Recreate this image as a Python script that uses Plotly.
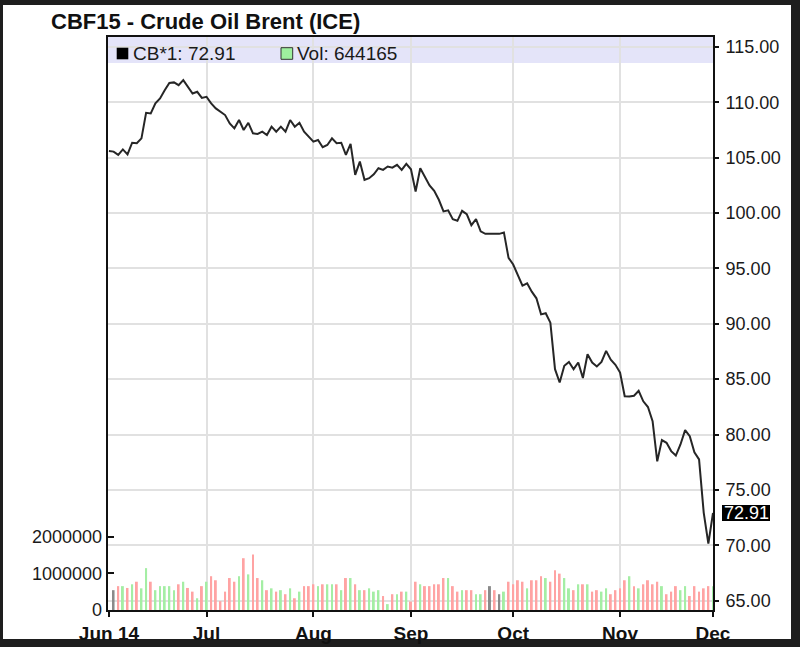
import plotly.graph_objects as go
import pandas as pd

# ---------------- data ----------------
dates = [d.strftime("%Y-%m-%d") for d in pd.bdate_range("2014-06-02", "2014-12-01")]

prices = [
    105.60, 105.55, 105.25, 105.75, 105.30, 106.35, 106.30, 106.75, 109.05, 109.00,
    109.90, 110.35, 111.10, 111.75, 111.80, 111.55, 112.00, 111.40, 110.80, 110.95,
    110.40, 110.50, 109.90, 109.45, 109.15, 108.85, 108.10, 107.65, 108.40, 107.50,
    108.15, 107.20, 107.15, 107.35, 107.05, 107.80, 107.35, 107.80, 107.35, 108.40,
    107.80, 108.15, 107.35, 106.90, 106.45, 106.60, 105.95, 106.15, 106.75, 106.30,
    106.35, 105.25, 106.25, 103.45, 104.65, 103.00, 103.15, 103.50, 104.05, 103.90,
    104.20, 104.10, 104.35, 103.90, 104.45, 103.95, 101.95, 104.05, 103.20, 102.50,
    102.00, 101.20, 100.15, 100.25, 99.45, 99.30, 100.20, 99.90, 98.90, 99.45,
    98.35, 98.12, 98.12, 98.12, 98.12, 98.25, 95.95, 95.35, 94.45, 93.45,
    93.65, 92.90, 92.30, 90.85, 90.95, 90.10, 85.90, 84.70, 86.20, 86.55,
    85.90, 86.50, 85.10, 87.25, 86.50, 86.15, 86.55, 87.55, 86.75, 86.30,
    85.60, 83.45, 83.44, 83.50, 83.95, 83.00, 82.48, 81.20, 77.57, 79.50,
    79.25, 78.50, 78.10, 79.10, 80.40, 79.85, 78.40, 77.75, 72.95, 70.15,
    72.91,
]

volume = [
    None, 540000, 650000, 650000, 600000, 700000, 770000, 590000, 1140000, 770000,
    540000, 650000, 650000, 650000, 540000, 700000, 770000, 600000, 500000, 320000,
    650000, 770000, 920000, 810000, 240000, 500000, 870000, 770000, 920000, 1410000,
    970000, 1510000, 870000, 810000, 540000, 590000, 500000, 540000, 430000, 590000,
    320000, 500000, 650000, 650000, 700000, 650000, 700000, 700000, 700000, 700000,
    540000, 870000, 870000, 700000, 540000, 540000, 590000, 500000, 540000, 380000,
    160000, 430000, 430000, 500000, 500000, 230000, 770000, 700000, 650000, 650000,
    700000, 700000, 870000, 870000, 650000, 500000, 540000, 540000, 540000, 430000,
    430000, 540000, 650000, 540000, 430000, 500000, 770000, 700000, 810000, 770000,
    590000, 810000, 810000, 920000, 870000, 770000, 1080000, 990000, 870000, 590000,
    540000, 700000, 700000, 700000, 500000, 540000, 500000, 590000, 430000, 540000,
    590000, 810000, 920000, 650000, 590000, 700000, 810000, 700000, 770000, 650000,
    430000, 500000, 650000, 540000, 650000, 380000, 650000, 500000, 590000, 650000,
    644165,
]

# u = up day, d = down day, n = unchanged (as coloured in the picture)
directions = (
    "nndududuud" "uuuuududdu" "duddddddud" "uddudududu" "duddduduud"
    "udududuuud" "udududdudd" "dddudduddu" "udndnudddd" "uddduddduu"
    "dududduudd" "ddududdddu" "ddduuddddd" "u"
)

tick_dates = ["2014-06-02", "2014-07-01", "2014-08-01", "2014-09-01",
              "2014-10-01", "2014-11-03", "2014-12-01"]
tick_labels = ["Jun 14", "Jul", "Aug", "Sep", "Oct", "Nov", "Dec"]

price_ticks = [65, 70, 75, 80, 85, 90, 95, 100, 105, 110, 115]
vol_ticks = [0, 1000000, 2000000]
vol_tick_labels = ["0", "1000000", "2000000"]

title_text = "CBF15 - Crude Oil Brent (ICE)"
legend_price = "CB*1: 72.91"
legend_vol = "Vol: 644165"
last_price = "72.91"

assert len(dates) == len(prices) == len(volume) == len(directions)

# ---------------- styling ----------------
FONT = "Liberation Sans, Arial, sans-serif"
color_map = {"u": "#a4eea4", "d": "#ffa3a3", "n": "#8a8a8a"}
bar_colors = [color_map[c] for c in directions]

W, H = 800, 647
ML, MR, MT, MB = 108, 87, 37, 37
PW, PH = W - ML - MR, H - MT - MB


def px(x):
    return (x - ML) / PW


def py(y):
    return (H - MB - y) / PH


fig = go.Figure()
fig.add_trace(go.Bar(
    x=dates, y=volume, yaxis="y2", marker_color=bar_colors,
    marker_line_width=0, width=0.42, hoverinfo="skip",
))
fig.add_trace(go.Scatter(
    x=dates, y=prices, mode="lines", line=dict(color="#262626", width=2),
))

shapes = [
    # white card
    dict(type="rect", xref="paper", yref="paper", x0=px(3), x1=px(791),
         y0=py(639), y1=py(5), fillcolor="white", line_width=0, layer="below"),
    # lavender legend band
    dict(type="rect", xref="paper", yref="paper", x0=0, x1=1,
         y0=py(63), y1=1, fillcolor="#e4e4f9", line_width=0, layer="below"),
    # legend swatches
    dict(type="rect", xref="paper", yref="paper", x0=px(116.7), x1=px(128.3),
         y0=py(59.3), y1=py(47.7), fillcolor="#000000", line_width=0, layer="above"),
    dict(type="rect", xref="paper", yref="paper", x0=px(281), x1=px(292.7),
         y0=py(59.3), y1=py(47.7), fillcolor="#9ef09e",
         line=dict(color="#333333", width=1), layer="above"),
    # last price box
    dict(type="rect", xref="paper", yref="paper", x0=px(722), x1=px(770),
         y0=py(521), y1=py(505), fillcolor="#000000", line_width=0, layer="above"),
]

annotations = [
    dict(text=title_text, xref="paper", yref="paper", x=px(49), y=py(21),
         xanchor="left", yanchor="middle", showarrow=False,
         font=dict(family=FONT, size=22, color="#111111", weight="bold")),
    dict(text=legend_price, xref="paper", yref="paper", x=px(131), y=py(53.3),
         xanchor="left", yanchor="middle", showarrow=False,
         font=dict(family=FONT, size=19, color="#1a1a1a")),
    dict(text=legend_vol, xref="paper", yref="paper", x=px(295), y=py(53.3),
         xanchor="left", yanchor="middle", showarrow=False,
         font=dict(family=FONT, size=19, color="#1a1a1a")),
    dict(text=last_price, xref="paper", yref="paper", x=px(746), y=py(513),
         xanchor="center", yanchor="middle", showarrow=False,
         font=dict(family=FONT, size=18, color="#ffffff")),
]

fig.update_layout(
    width=W, height=H,
    margin=dict(l=ML, r=MR, t=MT, b=MB, pad=0, autoexpand=False),
    paper_bgcolor="#1e1e1e",
    plot_bgcolor="rgba(0,0,0,0)",
    showlegend=False,
    font=dict(family=FONT, color="#1a1a1a"),
    shapes=shapes,
    annotations=annotations,
    xaxis=dict(
        type="category", range=[-0.2, 130], tickmode="array",
        tickvals=tick_dates, ticktext=tick_labels, automargin=False,
        ticks="outside", ticklen=5, tickwidth=1.5, tickcolor="#111111",
        showline=True, linecolor="#111111", linewidth=2, mirror=True,
        showgrid=True, gridcolor="#e1e1e1", gridwidth=2,
        tickfont=dict(family=FONT, size=19, color="#111111", weight="bold"),
        fixedrange=True,
    ),
    yaxis=dict(
        side="right", range=[64.15, 115.9], tickmode="array", automargin=False,
        tickvals=price_ticks, tickformat=".2f",
        ticks="outside", ticklen=4, tickwidth=1.5, tickcolor="#111111",
        showline=True, linecolor="#111111", linewidth=2, mirror=True,
        showgrid=True, gridcolor="#e1e1e1", gridwidth=2, zeroline=False,
        tickfont=dict(family=FONT, size=18, color="#1a1a1a"),
        ticklabelstandoff=3, fixedrange=True,
    ),
    yaxis2=dict(
        overlaying="y", side="left", range=[0, 15.6e6], tickmode="array",
        tickvals=vol_ticks, ticktext=vol_tick_labels, automargin=False,
        ticks="inside", ticklen=6, tickwidth=1.5, tickcolor="#111111",
        showline=False, showgrid=False, zeroline=False,
        tickfont=dict(family=FONT, size=18, color="#1a1a1a"),
        ticklabelstandoff=5, fixedrange=True,
    ),
)

fig.write_html(
    "out.html",
    config={"displayModeBar": False},
    post_script="document.body.style.margin='0';document.body.style.padding='0';"
                "document.body.style.overflow='hidden';",
)
